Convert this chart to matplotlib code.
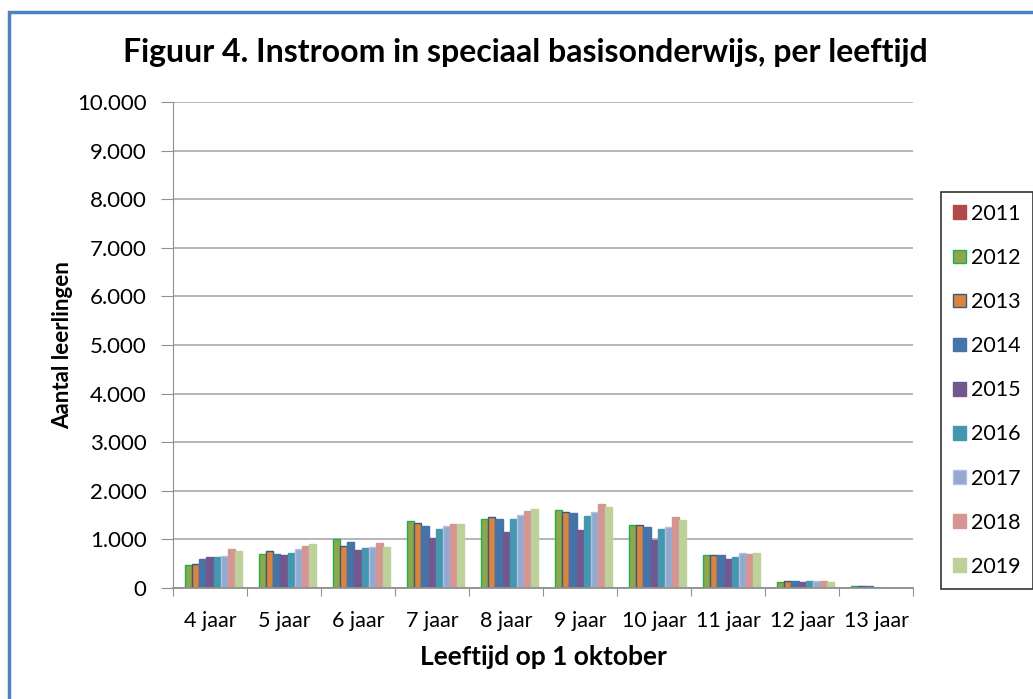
import matplotlib
matplotlib.use('Agg')
import matplotlib.pyplot as plt
import matplotlib.patches as mpatches
import matplotlib.ticker as ticker
import numpy as np

plt.rcParams['font.family'] = ['Lato', 'DejaVu Sans']

# Data
categories = ['4 jaar', '5 jaar', '6 jaar', '7 jaar', '8 jaar', '9 jaar',
              '10 jaar', '11 jaar', '12 jaar', '13 jaar']
years = ['2011', '2012', '2013', '2014', '2015', '2016', '2017', '2018', '2019']

v2011 = [0, 0, 0, 0, 0, 0, 0, 0, 0, 0]
v2012 = [480, 700, 1005, 1370, 1425, 1610, 1295, 678, 123, 34]
v2013 = [500, 753, 862, 1328, 1465, 1561, 1295, 671, 151, 34]
v2014 = [590, 705, 945, 1280, 1424, 1547, 1259, 678, 151, 34]
v2015 = [630, 685, 780, 1020, 1143, 1184, 993, 602, 123, 0]
v2016 = [630, 726, 828, 1205, 1424, 1472, 1205, 630, 151, 0]
v2017 = [657, 801, 849, 1280, 1492, 1567, 1259, 726, 151, 0]
v2018 = [801, 869, 917, 1307, 1588, 1718, 1451, 698, 151, 0]
v2019 = [753, 897, 849, 1307, 1615, 1663, 1403, 726, 130, 0]
series = [v2011, v2012, v2013, v2014, v2015, v2016, v2017, v2018, v2019]

colors = ['#B04A48', '#8EA64E', '#D9853F', '#4673A8', '#71588F',
          '#4398AF', '#93A9D0', '#D49593', '#BDD29A']
edges = ['#B04A48', '#22B04A', '#3E5877', '#4673A8', '#71588F',
         '#4398AF', '#B0C2E0', '#D49593', '#BDD29A']

fig = plt.figure(figsize=(10.33, 6.99), dpi=100)
ax = fig.add_axes([0.1675, 0.159, 0.7165, 0.695])

x = np.arange(len(categories))
n = len(years)
bw = 0.87 / n
for i in range(n):
    off = (i - (n - 1) / 2) * bw
    ax.bar(x + off, series[i], width=bw, color=colors[i],
           edgecolor=edges[i], linewidth=1.0, label=years[i])

ax.set_xlim(-0.5, len(categories) - 0.5)
ax.set_ylim(0, 10000)
ax.yaxis.set_major_locator(ticker.MultipleLocator(1000))
ax.yaxis.set_major_formatter(ticker.FuncFormatter(
    lambda v, p: '{:,.0f}'.format(v).replace(',', '.')))
ax.grid(axis='y', color='#B0B0B0', linewidth=1.3)
ax.set_axisbelow(True)

ax.set_xticks(np.arange(len(categories) + 1) - 0.5, minor=False)
ax.set_xticklabels([])
ax.set_xticks(x, minor=True)
ax.set_xticklabels(categories, minor=True, fontsize=15.5)
ax.tick_params(axis='x', which='minor', length=0, pad=17)
ax.tick_params(axis='x', which='major', length=6, color='#909090')
ax.tick_params(axis='y', labelsize=16, length=9, color='#909090', pad=10)

for s in ['top', 'right']:
    ax.spines[s].set_visible(False)
ax.spines['left'].set_color('#909090')
ax.spines['bottom'].set_color('#909090')
ax.spines['bottom'].set_linewidth(1.3)

ax.set_ylabel('Aantal leerlingen', fontsize=16, fontweight='bold', labelpad=3)
ax.set_xlabel('Leeftijd op 1 oktober', fontsize=19, fontweight='bold', labelpad=10)
fig.text(0.509, 0.925, 'Figuur 4. Instroom in speciaal basisonderwijs, per leeftijd',
         fontsize=23, fontweight='bold', ha='center', va='center')

handles = [mpatches.Patch(facecolor=colors[i], edgecolor=edges[i], label=years[i])
           for i in range(n)]
leg = fig.legend(handles=handles, loc='upper left',
                 bbox_to_anchor=(941 / 1033, 1 - 192 / 699), fontsize=15.5,
                 frameon=True, fancybox=False, handlelength=0.6, handleheight=0.6,
                 handletextpad=0.25, labelspacing=1.12, borderpad=0.55,
                 borderaxespad=0)
leg.get_frame().set_edgecolor('black')
leg.get_frame().set_linewidth(1.2)

# blue outer border of the chart
fig.add_artist(mpatches.Rectangle((9 / 1033, -0.05), 1.1, 1 - 12 / 699 + 0.05,
                                  transform=fig.transFigure, fill=False,
                                  edgecolor='#4F81BD', linewidth=2.5))

fig.savefig('out.png', dpi=100)
